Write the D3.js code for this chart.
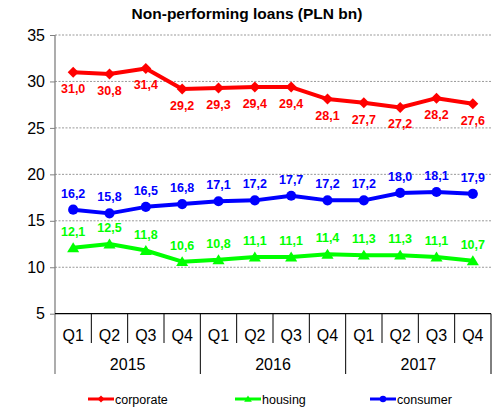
<!DOCTYPE html>
<html>
<head>
<meta charset="utf-8">
<script src="https://cdn.jsdelivr.net/npm/d3@7"></script>
<style>
  html, body { margin: 0; padding: 0; background: #fff; }
  svg { display: block; font-family: Arial, "Liberation Sans", sans-serif; }
</style>
</head>
<body>
<svg id="chart" width="499" height="409"></svg>
<script>
// Quarterly non-performing loans, PLN bn
const quarters = ["Q1","Q2","Q3","Q4","Q1","Q2","Q3","Q4","Q1","Q2","Q3","Q4"];
const years = ["2015","2016","2017"];
const corporate = [31.0, 30.8, 31.4, 29.2, 29.3, 29.4, 29.4, 28.1, 27.7, 27.2, 28.2, 27.6];
const housing   = [12.1, 12.5, 11.8, 10.6, 10.8, 11.1, 11.1, 11.4, 11.3, 11.3, 11.1, 10.7];
const consumer  = [16.2, 15.8, 16.5, 16.8, 17.1, 17.2, 17.7, 17.2, 17.2, 18.0, 18.1, 17.9];
const yTicks = [5, 10, 15, 20, 25, 30, 35];

const series = [
  { name: "corporate", values: corporate, color: "#ff0000", marker: "diamond", labelPos: "below" },
  { name: "housing",   values: housing,   color: "#00ff00", marker: "triangle", labelPos: "above" },
  { name: "consumer",  values: consumer,  color: "#0000ff", marker: "circle", labelPos: "above" }
];

const svg = d3.select("#chart");
const plotL = 55, plotR = 491, plotT = 35, plotB = 313.7;

const x = d3.scaleBand().domain(d3.range(quarters.length)).range([plotL, plotR]).paddingInner(0).paddingOuter(0);
const y = d3.scaleLinear().domain([5, 35]).range([plotB, plotT]);
const cx = i => x(i) + x.bandwidth() / 2;
const fmt = v => v.toFixed(1).replace(".", ",");

// Title
svg.append("text")
  .attr("x", 247).attr("y", 19)
  .attr("text-anchor", "middle")
  .attr("font-weight", "bold").attr("font-size", 15.5)
  .attr("fill", "#000")
  .text("Non-performing loans (PLN bn)");

// Gridlines
svg.append("g").selectAll("line")
  .data(yTicks.filter(t => t > 5))
  .join("line")
  .attr("x1", plotL).attr("x2", plotR)
  .attr("y1", d => y(d)).attr("y2", d => y(d))
  .attr("stroke", "#999").attr("stroke-width", 1)
  .attr("stroke-dasharray", "2,1.5");

// Y axis
const yAxis = svg.append("g")
  .attr("transform", `translate(${plotL},0)`)
  .call(d3.axisLeft(y).tickValues(yTicks).tickSize(5).tickPadding(5).tickFormat(d3.format("d")));
yAxis.select(".domain").remove();
yAxis.selectAll(".tick line").attr("stroke", "#808080");
yAxis.selectAll("text").attr("font-size", 16).attr("fill", "#000")
  .attr("font-family", "Arial, 'Liberation Sans', sans-serif");
// vertical axis line extending through the category area
svg.append("line")
  .attr("x1", plotL).attr("x2", plotL).attr("y1", plotT).attr("y2", 374)
  .attr("stroke", "#808080").attr("stroke-width", 1.3);

// X axis baseline
svg.append("line")
  .attr("x1", plotL).attr("x2", plotR).attr("y1", plotB).attr("y2", plotB)
  .attr("stroke", "#000").attr("stroke-width", 1.3);

// Quarter separators
const xg = svg.append("g");
xg.selectAll("line.q")
  .data(d3.range(1, quarters.length + 1))
  .join("line")
  .attr("class", "q")
  .attr("x1", i => i < quarters.length ? x(i) : plotR)
  .attr("x2", i => i < quarters.length ? x(i) : plotR)
  .attr("y1", plotB)
  .attr("y2", i => (i % 4 === 0) ? 374 : 343)
  .attr("stroke", "#000").attr("stroke-width", 1);

// Quarter labels
xg.selectAll("text.q")
  .data(quarters)
  .join("text")
  .attr("class", "q")
  .attr("x", (d, i) => cx(i)).attr("y", 341)
  .attr("text-anchor", "middle")
  .attr("font-size", 16).attr("fill", "#000")
  .text(d => d);

// Year labels
xg.selectAll("text.yr")
  .data(years)
  .join("text")
  .attr("class", "yr")
  .attr("x", (d, i) => (x(i * 4) + (i * 4 + 4 < quarters.length ? x(i * 4 + 4) : plotR)) / 2)
  .attr("y", 370)
  .attr("text-anchor", "middle")
  .attr("font-size", 16).attr("fill", "#000")
  .text(d => d);

// Markers
function marker(g, type, color, size) {
  if (type === "diamond") {
    g.append("path").attr("d", `M0,${-size}L${size},0L0,${size}L${-size},0Z`).attr("fill", color);
  } else if (type === "triangle") {
    g.append("path").attr("d", `M0,${-size}L${size * 1.1},${size * 0.8}L${-size * 1.1},${size * 0.8}Z`).attr("fill", color);
  } else {
    g.append("circle").attr("r", size * 0.92).attr("fill", color);
  }
}

const line = d3.line().x((d, i) => cx(i)).y(d => y(d));

series.forEach(s => {
  const g = svg.append("g");
  g.append("path")
    .datum(s.values)
    .attr("d", line)
    .attr("fill", "none")
    .attr("stroke", s.color)
    .attr("stroke-width", 4)
    .attr("stroke-linejoin", "round");
  s.values.forEach((v, i) => {
    const m = g.append("g").attr("transform", `translate(${cx(i)},${y(v)})`);
    marker(m, s.marker, s.color, 5.5);
  });
  g.selectAll("text")
    .data(s.values)
    .join("text")
    .attr("x", (d, i) => cx(i))
    .attr("y", d => y(d) + (s.labelPos === "below" ? 21 : -12))
    .attr("text-anchor", "middle")
    .attr("font-weight", "bold").attr("font-size", 12.5)
    .attr("fill", s.color)
    .text(d => fmt(d));
});

// Legend
const legend = [
  { s: series[0], x: 88 },
  { s: series[1], x: 235 },
  { s: series[2], x: 370 }
];
legend.forEach(l => {
  const g = svg.append("g").attr("transform", `translate(${l.x},399)`);
  g.append("line").attr("x1", 0).attr("x2", 26).attr("y1", 0).attr("y2", 0)
    .attr("stroke", l.s.color).attr("stroke-width", 3);
  const m = g.append("g").attr("transform", "translate(13,0)");
  marker(m, l.s.marker, l.s.color, 3.5);
  g.append("text").attr("x", 27).attr("y", 4.5)
    .attr("font-size", 12.5).attr("fill", "#000")
    .text(l.s.name);
});
</script>
</body>
</html>
